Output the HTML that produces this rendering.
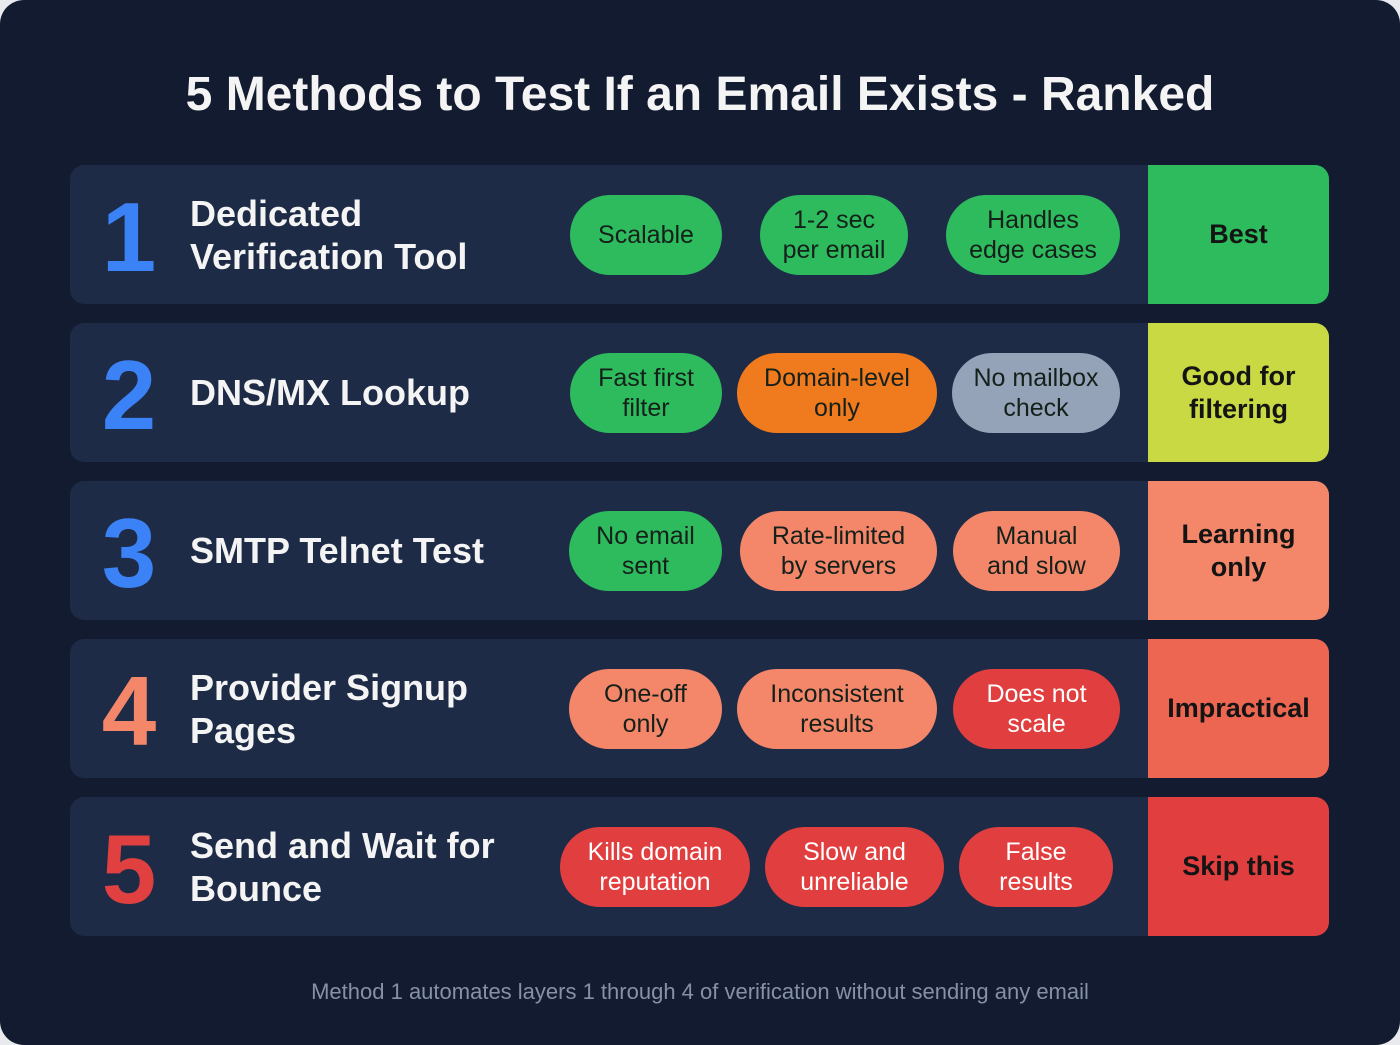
<!DOCTYPE html>
<html><head><meta charset="utf-8"><style>
body{margin:0;width:1400px;height:1045px;background:#e8eaee;font-family:"Liberation Sans",sans-serif;overflow:hidden}
#card{position:absolute;left:0;top:0;width:1400px;height:1045px;background:#121b2f;border-radius:24px}
h1{position:absolute;left:0;width:1400px;top:67px;margin:0;text-align:center;color:#f4f4f4;font-size:48px;font-weight:bold}
.row{position:absolute;left:70px;width:1259px;height:139px;background:#1e2b46;border-radius:14px;overflow:hidden}
.num{position:absolute;left:28px;top:16px;font-size:98px;font-weight:bold;width:62px;text-align:center}
.name{position:absolute;left:120px;top:0;height:139px;display:flex;align-items:center;color:#f4f4f4;font-size:36px;font-weight:bold;line-height:43px}
.pill{position:absolute;top:30px;height:80px;border-radius:40px;display:flex;align-items:center;justify-content:center;text-align:center;font-size:25px;line-height:30px;color:#15201a}
.badge{position:absolute;left:1078px;top:0;width:181px;height:139px;display:flex;align-items:center;justify-content:center;text-align:center;font-size:27px;font-weight:bold;line-height:33px;color:#141414}
.foot{position:absolute;left:0;width:1400px;top:979px;text-align:center;color:#8791a4;font-size:22px}
</style></head><body>
<div id="card">
<h1>5 Methods to Test If an Email Exists - Ranked</h1>
<div id="rows"></div>
<div class="foot">Method 1 automates layers 1 through 4 of verification without sending any email</div>
</div>
<script>
const G='#2dbb5e',O='#f07a1e',Y='#94a3b8',S='#f4876a',R='#e13f3f',L='#c8d944',I='#ec6652';
const names=['Dedicated<br>Verification Tool','DNS/MX Lookup','SMTP Telnet Test','Provider Signup<br>Pages','Send and Wait for<br>Bounce'];
const numColors=['#3b82f6','#3b82f6','#3b82f6',S,'#e04040'];
const pills=[
[['Scalable',G,500,152],['1-2 sec<br>per email',G,690,148],['Handles<br>edge cases',G,876,174]],
[['Fast first<br>filter',G,500,152],['Domain-level<br>only',O,667,200],['No mailbox<br>check',Y,882,168]],
[['No email<br>sent',G,499,153],['Rate-limited<br>by servers',S,670,197],['Manual<br>and slow',S,883,167]],
[['One-off<br>only',S,499,153],['Inconsistent<br>results',S,667,200],['Does not<br>scale',R,883,167,1]],
[['Kills domain<br>reputation',R,490,190,1],['Slow and<br>unreliable',R,695,179,1],['False<br>results',R,889,154,1]]];
const badges=[['Best',G],['Good for<br>filtering',L],['Learning<br>only',S],['Impractical',I],['Skip this',R]];
const c=document.getElementById('rows');
names.forEach((n,i)=>{
 const r=document.createElement('div');r.className='row';r.style.top=(165+i*158)+'px';
 
 
 let h=`<div class="num" style="color:${numColors[i]}">${i+1}</div><div class="name">${n}</div>`;
 pills[i].forEach(p=>{h+=`<div class="pill" style="left:${p[2]}px;width:${p[3]}px;background:${p[1]};${p[4]?'color:#fff':''}">${p[0]}</div>`;});
 h+=`<div class="badge" style="background:${badges[i][1]}">${badges[i][0]}</div>`;
 r.innerHTML=h;c.appendChild(r);
});
</script>
</body></html>
